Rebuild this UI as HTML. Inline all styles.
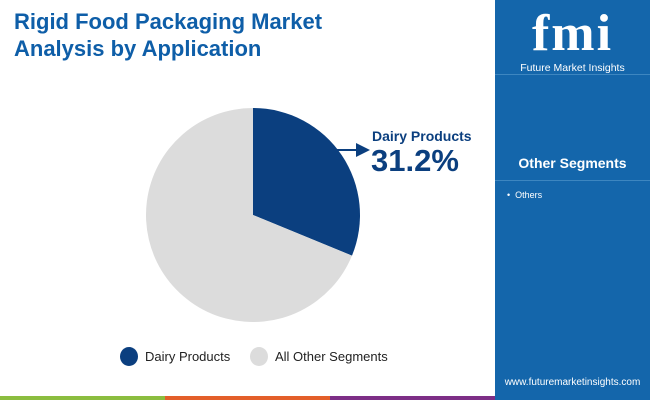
<!DOCTYPE html>
<html><head><meta charset="utf-8"><style>
body{margin:0;width:650px;height:400px;overflow:hidden;background:#fff;font-family:"Liberation Sans",sans-serif;position:relative}
.abs{position:absolute}
</style></head><body>
<div class="abs" style="left:14px;top:8px;font-size:22px;font-weight:bold;color:#0e5ea8;line-height:27px">Rigid Food Packaging Market<br>Analysis by Application</div>
<div class="abs" style="left:495px;top:0;width:155px;height:400px;background:#1466ab"></div>
<div class="abs" style="left:495px;top:8px;width:155px;text-align:center;color:#fff">
 <div style="font-family:'Liberation Serif',serif;font-weight:bold;font-size:52px;line-height:52px;letter-spacing:2px">fmi</div>
 <div style="font-size:10.5px;margin-top:2px">Future Market Insights</div>
</div>
<div class="abs" style="left:495px;top:74px;width:155px;height:1px;background:#3d86c0"></div>
<div class="abs" style="left:495px;top:155px;width:155px;text-align:center;color:#fff;font-weight:bold;font-size:14px">Other Segments</div>
<div class="abs" style="left:495px;top:180px;width:155px;height:1px;background:#3d86c0"></div>
<div class="abs" style="left:507px;top:190px;color:#fff;font-size:9px">•&nbsp;&nbsp;Others</div>
<div class="abs" style="left:495px;top:377px;width:155px;text-align:center;color:#fff;font-size:10px">www.futuremarketinsights.com</div>
<div class="abs" style="left:0;top:396px;width:165px;height:4px;background:#8bbd3f"></div>
<div class="abs" style="left:165px;top:396px;width:165px;height:4px;background:#e35f2a"></div>
<div class="abs" style="left:330px;top:396px;width:165px;height:4px;background:#7d2e86"></div>
<svg class="abs" style="left:0;top:0" width="495" height="395" id="pie">
 <defs><marker id="ah" markerWidth="7" markerHeight="7" refX="5" refY="3.5" orient="auto"><path d="M0,0L7,3.5L0,7z" fill="#0b3f7f"/></marker></defs>
</svg>
<div class="abs" style="left:372px;top:128px;color:#0b3f7f;font-weight:bold;font-size:14px">Dairy Products</div>
<div class="abs" style="left:371px;top:143px;color:#0b3f7f;font-weight:bold;font-size:31px">31.2%</div>
<div class="abs" style="left:120px;top:347px;font-size:13px;color:#222;display:flex;align-items:center"><span style="display:inline-block;width:18px;height:19px;border-radius:50%;background:#0b3f7f;margin-right:7px"></span>Dairy Products</div>
<div class="abs" style="left:250px;top:347px;font-size:13px;color:#222;display:flex;align-items:center"><span style="display:inline-block;width:18px;height:19px;border-radius:50%;background:#dcdcdc;margin-right:7px"></span>All Other Segments</div>
<script>
const categories=["Dairy Products","All Other Segments"];
const values=[31.2,68.8];
const colors=["#0b3f7f","#dcdcdc"];
const svg=document.getElementById('pie');
const cx=253,cy=215,r=107;
const total=values.reduce((a,b)=>a+b,0);
let a0=-Math.PI/2;
values.forEach((v,i)=>{
 const a1=a0+v/total*2*Math.PI;
 const large=(a1-a0)>Math.PI?1:0;
 const p=document.createElementNS('http://www.w3.org/2000/svg','path');
 p.setAttribute('d',`M${cx},${cy}L${cx+r*Math.cos(a0)},${cy+r*Math.sin(a0)}A${r},${r} 0 ${large} 1 ${cx+r*Math.cos(a1)},${cy+r*Math.sin(a1)}Z`);
 p.setAttribute('fill',colors[i]);
 
 
 svg.appendChild(p);
 a0=a1;
});
const ln=document.createElementNS('http://www.w3.org/2000/svg','line');
ln.setAttribute('x1',336);ln.setAttribute('y1',150);ln.setAttribute('x2',366);ln.setAttribute('y2',150);
ln.setAttribute('stroke','#0b3f7f');ln.setAttribute('stroke-width',2);ln.setAttribute('marker-end','url(#ah)');


svg.appendChild(ln);
</script>
</body></html>
